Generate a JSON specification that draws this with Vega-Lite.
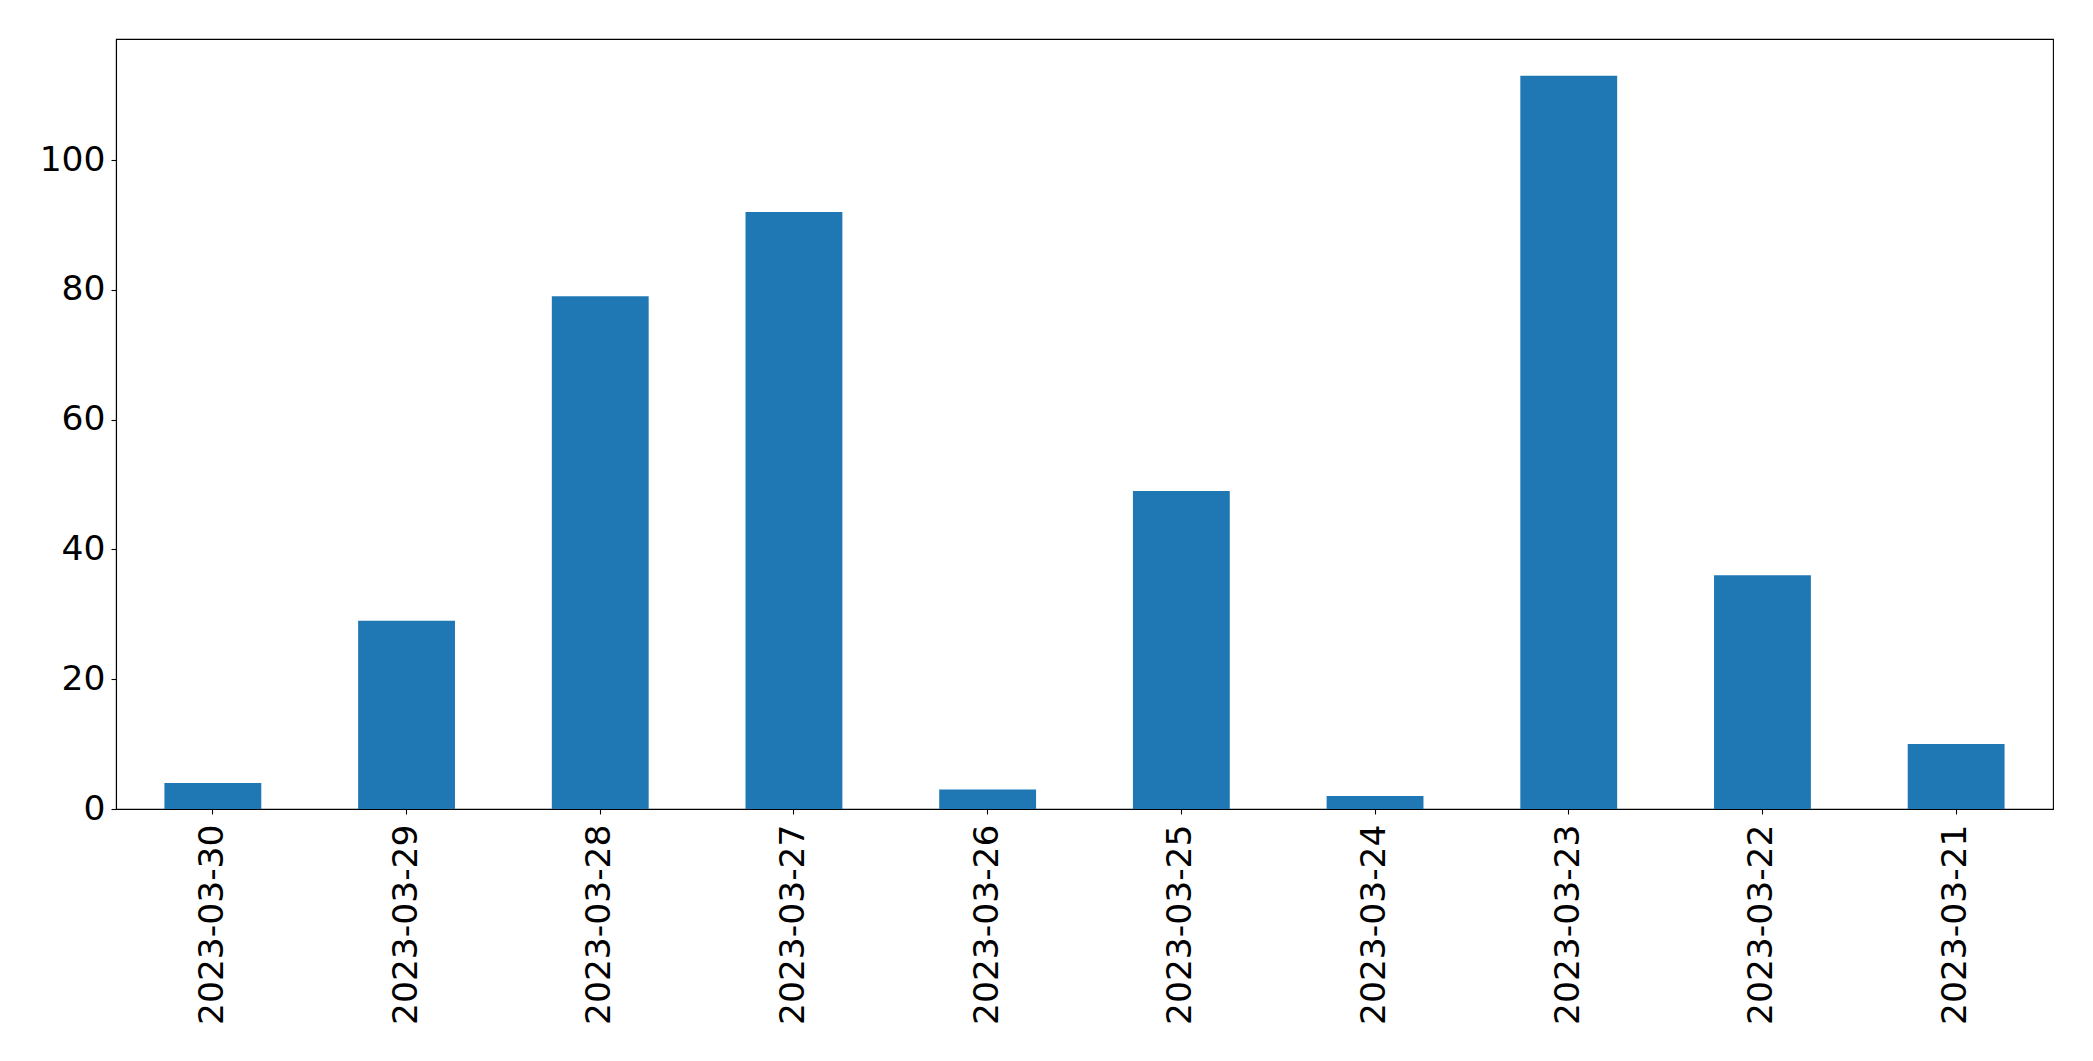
{
  "$schema": "https://vega.github.io/schema/vega-lite/v6.json",
  "width": 1937,
  "height": 770,
  "autosize": {"type": "none"},
  "padding": {"left": 116, "top": 39, "right": 40, "bottom": 252},
  "background": "white",
  "config": {
    "view": {"stroke": "black", "strokeWidth": 1.1},
    "axis": {
      "labelFont": "DejaVu Sans",
      "labelFontSize": 34.5,
      "labelColor": "black",
      "labelLimit": 0,
      "tickColor": "black",
      "tickSize": 5,
      "tickWidth": 1.1,
      "domainColor": "black",
      "domainWidth": 1.1,
      "grid": false,
      "title": null
    }
  },
  "data": {
    "values": [
      {"date": "2023-03-30", "count": 4},
      {"date": "2023-03-29", "count": 29},
      {"date": "2023-03-28", "count": 79},
      {"date": "2023-03-27", "count": 92},
      {"date": "2023-03-26", "count": 3},
      {"date": "2023-03-25", "count": 49},
      {"date": "2023-03-24", "count": 2},
      {"date": "2023-03-23", "count": 113},
      {"date": "2023-03-22", "count": 36},
      {"date": "2023-03-21", "count": 10}
    ]
  },
  "mark": {"type": "bar", "color": "#1f77b4"},
  "encoding": {
    "x": {
      "field": "date",
      "type": "nominal",
      "sort": null,
      "scale": {"paddingInner": 0.5, "paddingOuter": 0.25},
      "axis": {"labelAngle": 270, "labelAlign": "right", "labelBaseline": "middle", "labelPadding": 10}
    },
    "y": {
      "field": "count",
      "type": "quantitative",
      "scale": {"domain": [0, 118.65], "nice": false, "zero": true},
      "axis": {"values": [0, 20, 40, 60, 80, 100], "labelPadding": 6}
    }
  }
}
